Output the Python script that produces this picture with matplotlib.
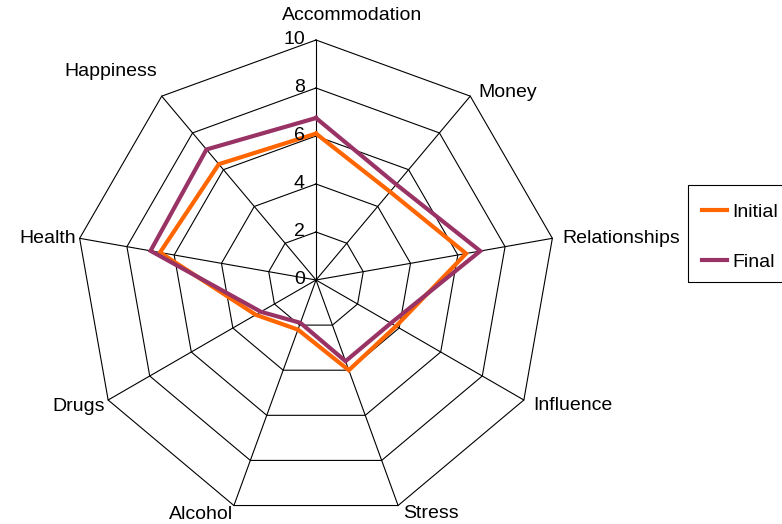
import numpy as np
import matplotlib
matplotlib.use('Agg')
import matplotlib.pyplot as plt
from matplotlib.patches import Rectangle

plt.rcParams['font.family'] = ['Liberation Sans', 'DejaVu Sans']

# ---------------------------------------------------------------------------
# Data
# ---------------------------------------------------------------------------
categories = ['Accommodation', 'Money', 'Relationships', 'Influence', 'Stress',
              'Alcohol', 'Drugs', 'Health', 'Happiness']
initial = [6.1, 4.8, 6.35, 3.85, 4.0, 2.2, 2.9, 6.6, 6.3]
final = [6.75, 5.2, 6.95, 3.6, 3.6, 1.9, 2.65, 7.0, 7.1]
ticks = [0, 2, 4, 6, 8, 10]

ORANGE = '#ff6600'
PURPLE = '#993366'

# label placement: (dx, dy in px from vertex, ha, va)
label_pos = [
    (36, -24, 'center', 'center'),
    (8, -4, 'left', 'center'),
    (10, 0, 'left', 'center'),
    (9, 6, 'left', 'center'),
    (5, 8, 'left', 'center'),
    (-1, 9, 'right', 'center'),
    (-3, 6, 'right', 'center'),
    (-4, 0, 'right', 'center'),
    (-51, -25, 'center', 'center'),
]

# ---------------------------------------------------------------------------
# Geometry: axes in "value" units, 24 px per unit, centre at (316, 280) px
# ---------------------------------------------------------------------------
W, H = 782, 524
CX, CY = 316, 280
PX = 24.0
rmax = ticks[-1]

n = len(categories)
ang = np.arange(n) * 2 * np.pi / n
sx, sy = np.sin(ang), np.cos(ang)

fig = plt.figure(figsize=(W / 100, H / 100), dpi=100)
ax = fig.add_axes([0, 0, 1, 1])
ax.set_xlim(-CX / PX, (W - CX) / PX)
ax.set_ylim(-(H - CY) / PX, CY / PX)
ax.axis('off')

# grid polygons
for t in ticks[1:]:
    xs = np.append(sx * t, sx[0] * t)
    ys = np.append(sy * t, sy[0] * t)
    ax.plot(xs, ys, color='black', lw=0.8, zorder=1)
# spokes
for i in range(n):
    ax.plot([0, sx[i] * rmax], [0, sy[i] * rmax], color='black', lw=0.8, zorder=1)

# tick labels
for t in ticks:
    ax.text(-11 / PX, t, str(t), ha='right', va='center', fontsize=14, zorder=3)

# series
for vals, col, lab in [(initial, ORANGE, 'Initial'), (final, PURPLE, 'Final')]:
    v = np.array(vals + vals[:1])
    a = np.append(ang, ang[0])
    ax.plot(v * np.sin(a), v * np.cos(a), color=col, lw=3, label=lab,
            solid_joinstyle='miter', zorder=2)

# category labels
for i, name in enumerate(categories):
    dx, dy, ha, va = label_pos[i]
    ax.text(sx[i] * rmax + dx / PX, sy[i] * rmax - dy / PX, name,
            ha=ha, va=va, fontsize=14)

# legend: frameless entries + a box that runs off the right edge
ax.legend(loc='upper left', bbox_to_anchor=(688 / W, 1 - 190 / H),
          frameon=False, fontsize=14, handlelength=1.3,
          handletextpad=0.3, labelspacing=1.65, borderpad=0.7,
          borderaxespad=0)
fig.add_artist(Rectangle((688 / W, 1 - 282 / H), 110 / W, 97 / H,
                         transform=fig.transFigure, fill=False,
                         edgecolor='black', lw=0.8))

fig.savefig('out.png', dpi=100)
